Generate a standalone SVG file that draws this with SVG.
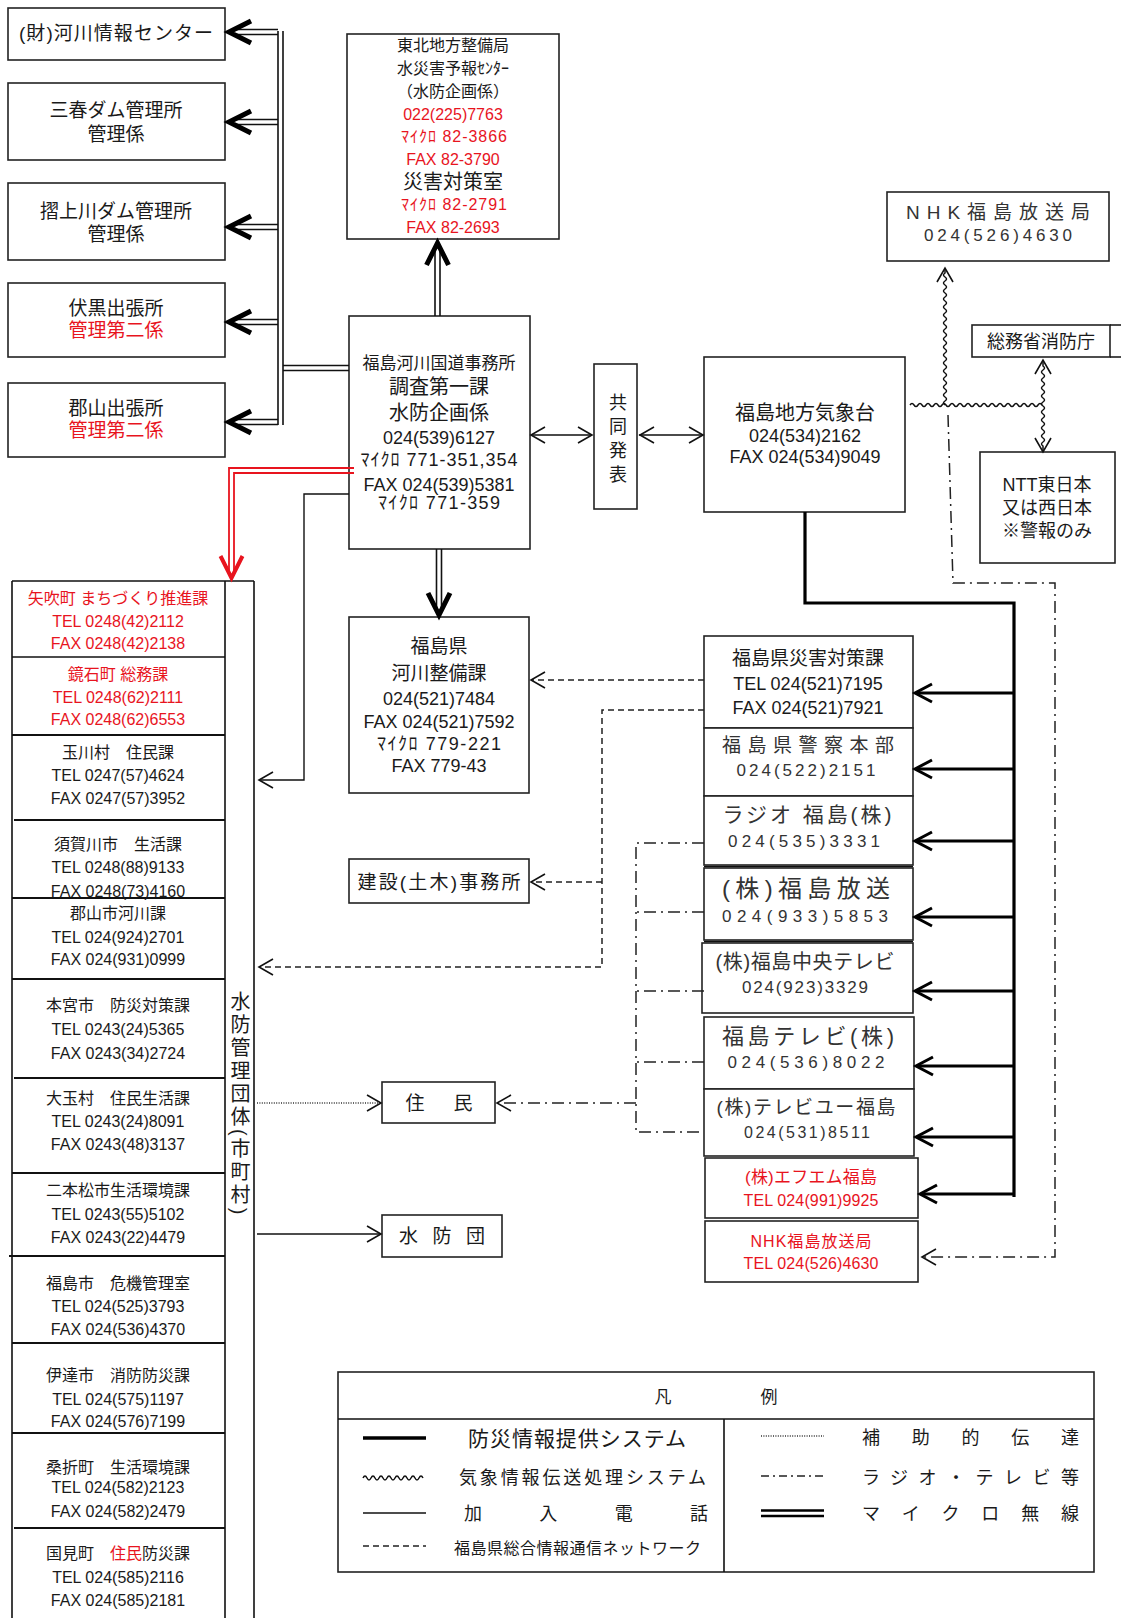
<svg xmlns="http://www.w3.org/2000/svg" width="1121" height="1618" viewBox="0 0 1121 1618">
<style>
text{font-family:"Liberation Sans","Noto Sans CJK JP",sans-serif;fill:#1a1a1a;text-anchor:middle}
.r{fill:#e8141e}
.g{fill:#333}
.box{fill:#fff;stroke:#222;stroke-width:1.6}
.ln{fill:none;stroke:#111;stroke-width:1.4}
.sep{fill:none;stroke:#111;stroke-width:2}
.thick{fill:none;stroke:#000;stroke-width:3.2}
.dbl{fill:none;stroke:#111;stroke-width:1.6}
.rdbl{fill:none;stroke:#e8141e;stroke-width:1.8}
.dash{fill:none;stroke:#222;stroke-width:1.5;stroke-dasharray:6 4}
.dd{fill:none;stroke:#222;stroke-width:1.5;stroke-dasharray:12 5 2 5}
.dot{fill:none;stroke:#333;stroke-width:1.4;stroke-dasharray:1 1.4}
.wav{fill:none;stroke:#111;stroke-width:1.5}
.cb{fill:none;stroke:#000;stroke-width:5}
.cr{fill:none;stroke:#e8141e;stroke-width:4}
.cm{fill:none;stroke:#000;stroke-width:3}
.ct{fill:none;stroke:#111;stroke-width:1.6}
</style>
<defs>
<path id="chB" d="M22,-11 L0,0 L22,11"/>
<path id="chM" d="M17,-9 L0,0 L17,9"/>
<path id="chT" d="M14,-8 L0,0 L14,8"/>
</defs>

<!-- left top boxes -->
<g id="kasen-center"><rect class="box" x="8" y="8" width="217" height="52"/><text x="116" y="40" font-size="19" textLength="194">(財)河川情報センター</text></g>
<g id="miharu"><rect class="box" x="8" y="83" width="217" height="77"/><text x="116" y="117" font-size="19">三春ダム管理所</text><text x="116" y="141" font-size="19">管理係</text></g>
<g id="surikamigawa"><rect class="box" x="8" y="183" width="217" height="77"/><text x="116" y="218" font-size="19">摺上川ダム管理所</text><text x="116" y="241" font-size="19">管理係</text></g>
<g id="fushiguro"><rect class="box" x="8" y="283" width="217" height="74"/><text x="116" y="315" font-size="19">伏黒出張所</text><text x="116" y="337" font-size="19" class="r">管理第二係</text></g>
<g id="koriyama-sh"><rect class="box" x="8" y="383" width="217" height="74"/><text x="116" y="415" font-size="19">郡山出張所</text><text x="116" y="437" font-size="19" class="r">管理第二係</text></g>

<g id="tohoku"><rect class="box" x="347" y="34" width="212" height="205"/>
<text x="453" y="51" font-size="16">東北地方整備局</text>
<text x="453" y="74" font-size="16">水災害予報ｾﾝﾀｰ</text>
<text x="453" y="97" font-size="16">（水防企画係）</text>
<text x="453" y="120" font-size="16" class="r">022(225)7763</text>
<text x="454" y="142" font-size="16" class="r" textLength="106">ﾏｲｸﾛ 82-3866</text>
<text x="453" y="165" font-size="16" class="r">FAX 82-3790</text>
<text x="453" y="189" font-size="20">災害対策室</text>
<text x="454" y="210" font-size="16" class="r" textLength="106">ﾏｲｸﾛ 82-2791</text>
<text x="453" y="233" font-size="16" class="r">FAX 82-2693</text>
</g>

<g id="office"><rect class="box" x="349" y="316" width="181" height="233"/>
<text x="439" y="369" font-size="17">福島河川国道事務所</text>
<text x="439" y="394" font-size="20">調査第一課</text>
<text x="439" y="420" font-size="20">水防企画係</text>
<text x="439" y="444" font-size="18">024(539)6127</text>
<text x="439" y="466" font-size="18" textLength="157">ﾏｲｸﾛ 771-351,354</text>
<text x="439" y="491" font-size="18">FAX 024(539)5381</text>
<text x="439" y="509" font-size="18" textLength="122">ﾏｲｸﾛ 771-359</text>
</g>

<g id="kyodo"><rect class="box" x="594" y="364" width="43" height="145"/>
<text x="616" y="393" font-size="18" style="writing-mode:vertical-rl;text-anchor:start;letter-spacing:6px">共同発表</text></g>

<g id="kishodai"><rect class="box" x="704" y="357" width="201" height="155"/>
<text x="805" y="420" font-size="20">福島地方気象台</text>
<text x="805" y="442" font-size="18">024(534)2162</text>
<text x="805" y="463" font-size="18">FAX 024(534)9049</text></g>

<g id="nhk-top"><rect class="box" x="887" y="192" width="222" height="69"/>
<text x="998" y="219" font-size="19" textLength="184" class="g">NHK福島放送局</text>
<text x="998" y="241" font-size="17" textLength="148" class="g">024(526)4630</text></g>

<g id="shobocho"><rect class="box" x="972" y="325" width="138" height="32"/><path class="ln" d="M1110,325 H1121 M1110,357 H1121"/>
<text x="1041" y="348" font-size="18">総務省消防庁</text></g>

<g id="ntt"><rect class="box" x="980" y="452" width="135" height="111"/>
<text x="1047" y="491" font-size="18">NTT東日本</text>
<text x="1047" y="514" font-size="18">又は西日本</text>
<text x="1047" y="537" font-size="18">※警報のみ</text></g>

<g id="kasen-seibi"><rect class="box" x="349" y="617" width="180" height="176"/>
<text x="439" y="653" font-size="19">福島県</text>
<text x="439" y="680" font-size="19">河川整備課</text>
<text x="439" y="705" font-size="18">024(521)7484</text>
<text x="439" y="728" font-size="18">FAX 024(521)7592</text>
<text x="439" y="750" font-size="18" textLength="124">ﾏｲｸﾛ 779-221</text>
<text x="439" y="772" font-size="18">FAX 779-43</text></g>

<g id="kensetsu"><rect class="box" x="349" y="859" width="180" height="44"/>
<text x="439" y="889" font-size="19" textLength="163">建設(土木)事務所</text></g>

<g id="jumin"><rect class="box" x="382" y="1082" width="113" height="41"/><text x="439" y="1110" font-size="19" textLength="67">住民</text></g>
<g id="suibodan"><rect class="box" x="382" y="1215" width="120" height="42"/><text x="442" y="1243" font-size="19" textLength="86">水防団</text></g>

<!-- right column -->
<g id="saigai"><rect class="box" x="704" y="636" width="209" height="92"/>
<text x="808" y="665" font-size="19">福島県災害対策課</text>
<text x="808" y="690" font-size="18">TEL 024(521)7195</text>
<text x="808" y="714" font-size="18">FAX 024(521)7921</text></g>
<g id="keisatsu"><rect class="box" x="704" y="728" width="209" height="68"/>
<text x="808" y="752" font-size="19" textLength="172" class="g">福島県警察本部</text>
<text x="806" y="776" font-size="17" textLength="139" class="g">024(522)2151</text></g>
<g id="radio"><rect class="box" x="704" y="796" width="209" height="69"/>
<text x="807" y="822" font-size="21" textLength="169" class="g">ラジオ 福島(株)</text>
<text x="804" y="847" font-size="17" textLength="152" class="g">024(535)3331</text></g>
<g id="kfb"><rect class="box" x="704" y="868" width="209" height="72"/><path class="ln" d="M704,866.5 H913"/>
<text x="806" y="897" font-size="24" textLength="168" class="g">(株)福島放送</text>
<text x="805" y="922" font-size="17" textLength="166" class="g">024(933)5853</text></g>
<g id="fct"><rect class="box" x="702" y="943" width="211" height="70"/><path class="ln" d="M704,941.5 H913"/>
<text x="805" y="969" font-size="20" textLength="179" class="g">(株)福島中央テレビ</text>
<text x="805" y="993" font-size="17" textLength="126" class="g">024(923)3329</text></g>
<g id="ftv"><rect class="box" x="704" y="1017" width="210" height="72"/>
<text x="808" y="1044" font-size="22" textLength="172" class="g">福島テレビ(株)</text>
<text x="806" y="1068" font-size="17" textLength="157" class="g">024(536)8022</text></g>
<g id="tuf"><rect class="box" x="704" y="1089" width="210" height="67"/>
<text x="806" y="1114" font-size="19" textLength="179" class="g">(株)テレビユー福島</text>
<text x="807" y="1138" font-size="16" textLength="126" class="g">024(531)8511</text></g>
<g id="fm"><rect class="box" x="705" y="1158" width="213" height="60"/>
<text x="811" y="1183" font-size="17" textLength="132" class="r">(株)エフエム福島</text>
<text x="811" y="1206" font-size="16" textLength="135" class="r">TEL 024(991)9925</text></g>
<g id="nhk-red"><rect class="box" x="705" y="1221" width="213" height="61"/>
<text x="811" y="1247" font-size="16" textLength="121" class="r">NHK福島放送局</text>
<text x="811" y="1269" font-size="16" textLength="135" class="r">TEL 024(526)4630</text></g>

<!-- municipalities column -->
<g id="municipalities">
<path class="ln" d="M12,581 V1618 M254,581 V1618 M12,581 H254 M225,581 V1618" style="stroke-width:1.6"/>
<text x="239" y="991" font-size="20" style="writing-mode:vertical-rl;text-anchor:start;letter-spacing:3px">水防管理団体(市町村)</text>
</g>
<g id="yabuki"><path class="ln" d="M12,657 H225"/>
<text x="118" y="604" font-size="16" class="r">矢吹町 まちづくり推進課</text>
<text x="118" y="627" font-size="16" class="r">TEL 0248(42)2112</text>
<text x="118" y="649" font-size="16" class="r">FAX 0248(42)2138</text></g>
<g id="kagamiishi"><path class="sep" d="M12,735 H225"/>
<text x="118" y="680" font-size="16" class="r">鏡石町 総務課</text>
<text x="118" y="703" font-size="16" class="r">TEL 0248(62)2111</text>
<text x="118" y="725" font-size="16" class="r">FAX 0248(62)6553</text></g>
<g id="tamakawa"><path class="sep" d="M14,820 H225"/>
<text x="118" y="758" font-size="16">玉川村　住民課</text>
<text x="118" y="781" font-size="16">TEL 0247(57)4624</text>
<text x="118" y="804" font-size="16">FAX 0247(57)3952</text></g>
<g id="sukagawa"><path class="sep" d="M12,898 H225"/>
<text x="118" y="850" font-size="16">須賀川市　生活課</text>
<text x="118" y="873" font-size="16">TEL 0248(88)9133</text>
<text x="118" y="897" font-size="16">FAX 0248(73)4160</text></g>
<g id="koriyama"><path class="sep" d="M12,979 H225"/>
<text x="118" y="919" font-size="16">郡山市河川課</text>
<text x="118" y="943" font-size="16">TEL 024(924)2701</text>
<text x="118" y="965" font-size="16">FAX 024(931)0999</text></g>
<g id="motomiya"><path class="sep" d="M14,1078 H225"/>
<text x="118" y="1011" font-size="16">本宮市　防災対策課</text>
<text x="118" y="1035" font-size="16">TEL 0243(24)5365</text>
<text x="118" y="1059" font-size="16">FAX 0243(34)2724</text></g>
<g id="otama"><path class="sep" d="M12,1173 H225"/>
<text x="118" y="1104" font-size="16">大玉村　住民生活課</text>
<text x="118" y="1127" font-size="16">TEL 0243(24)8091</text>
<text x="118" y="1150" font-size="16">FAX 0243(48)3137</text></g>
<g id="nihonmatsu"><path class="sep" d="M9,1256 H225"/>
<text x="118" y="1196" font-size="16">二本松市生活環境課</text>
<text x="118" y="1220" font-size="16">TEL 0243(55)5102</text>
<text x="118" y="1243" font-size="16">FAX 0243(22)4479</text></g>
<g id="fukushima-shi"><path class="sep" d="M12,1343 H225"/>
<text x="118" y="1289" font-size="16">福島市　危機管理室</text>
<text x="118" y="1312" font-size="16">TEL 024(525)3793</text>
<text x="118" y="1335" font-size="16">FAX 024(536)4370</text></g>
<g id="date"><path class="sep" d="M12,1433 H225"/>
<text x="118" y="1381" font-size="16">伊達市　消防防災課</text>
<text x="118" y="1405" font-size="16">TEL 024(575)1197</text>
<text x="118" y="1427" font-size="16">FAX 024(576)7199</text></g>
<g id="koori"><path class="sep" d="M14,1528 H225"/>
<text x="118" y="1473" font-size="16">桑折町　生活環境課</text>
<text x="118" y="1493" font-size="16">TEL 024(582)2123</text>
<text x="118" y="1517" font-size="16">FAX 024(582)2479</text></g>
<g id="kunimi">
<text x="118" y="1559" font-size="16">国見町　<tspan class="r">住民</tspan>防災課</text>
<text x="118" y="1583" font-size="16">TEL 024(585)2116</text>
<text x="118" y="1606" font-size="16">FAX 024(585)2181</text></g>

<!-- connectors -->
<g id="connectors">
<path class="dbl" d="M278,31 V425 M283,31 V425 M283,365.5 H349 M283,370.5 H349"/>
<path class="dbl" d="M236,29.5 H278 M236,34.5 H278 M236,119.5 H278 M236,124.5 H278 M236,224.5 H278 M236,229.5 H278 M236,319.5 H278 M236,324.5 H278 M236,419.5 H278 M236,424.5 H278"/>
<use href="#chB" class="cb" transform="translate(229,32)"/>
<use href="#chB" class="cb" transform="translate(229,122)"/>
<use href="#chB" class="cb" transform="translate(229,227)"/>
<use href="#chB" class="cb" transform="translate(229,322)"/>
<use href="#chB" class="cb" transform="translate(229,422)"/>
<path class="dbl" d="M435,316 V250 M440,316 V250"/>
<use href="#chB" class="cb" transform="translate(437.5,243) rotate(90)"/>
<path class="dbl" d="M436.5,549 V608 M441.5,549 V608"/>
<use href="#chB" class="cb" transform="translate(439,615) rotate(-90)"/>
<path class="rdbl" d="M354,468 H229 V572 M354,473 H234 V572"/>
<use href="#chB" class="cr" transform="translate(231.5,578) rotate(-90)"/>
<path class="ln" d="M349,494 H304 V780 H260"/>
<use href="#chT" class="ct" transform="translate(259,780)"/>
<path class="ln" d="M532,435 H592 M639,435 H702"/>
<use href="#chT" class="ct" transform="translate(531,435)"/>
<use href="#chT" class="ct" transform="translate(592,435) rotate(180)"/>
<use href="#chT" class="ct" transform="translate(640,435)"/>
<use href="#chT" class="ct" transform="translate(703,435) rotate(180)"/>
<path class="wav" d="M910,405 q2,-3 4,0 t4,0 t4,0 t4,0 t4,0 t4,0 t4,0 t4,0 t4,0 t4,0 t4,0 t4,0 t4,0 t4,0 t4,0 t4,0 t4,0 t4,0 t4,0 t4,0 t4,0 t4,0 t4,0 t4,0 t4,0 t4,0 t4,0 t4,0 t4,0 t4,0 t4,0 t4,0 t4,0"/>
<path class="wav" d="M945,405 q-3,-2 0,-4 t0,-4 t0,-4 t0,-4 t0,-4 t0,-4 t0,-4 t0,-4 t0,-4 t0,-4 t0,-4 t0,-4 t0,-4 t0,-4 t0,-4 t0,-4 t0,-4 t0,-4 t0,-4 t0,-4 t0,-4 t0,-4 t0,-4 t0,-4 t0,-4 t0,-4 t0,-4 t0,-4 t0,-4 t0,-4 t0,-4 t0,-4 t0,-4 V269"/>
<use href="#chT" class="ct" transform="translate(945,268) rotate(90)"/>
<path class="wav" d="M1043,362 V366 q3,2 0,4 t0,4 t0,4 t0,4 t0,4 t0,4 t0,4 t0,4 t0,4 t0,4 t0,4 t0,4 t0,4 t0,4 t0,4 t0,4 t0,4 t0,4 t0,4 t0,4 V451"/>
<use href="#chT" class="ct" transform="translate(1043,360) rotate(90)"/>
<use href="#chT" class="ct" transform="translate(1043,452) rotate(-90)"/>
<path class="thick" d="M805,512 V603 H1014 V1197"/>
<path class="thick" d="M1014,693 H916 M1014,769 H916 M1014,841 H916 M1014,917 H916 M1014,991 H916 M1014,1066 H917 M1014,1137 H917 M1014,1194 H921"/>
<use href="#chM" class="cm" transform="translate(915,693)"/>
<use href="#chM" class="cm" transform="translate(915,769)"/>
<use href="#chM" class="cm" transform="translate(915,841)"/>
<use href="#chM" class="cm" transform="translate(915,917)"/>
<use href="#chM" class="cm" transform="translate(915,991)"/>
<use href="#chM" class="cm" transform="translate(916,1066)"/>
<use href="#chM" class="cm" transform="translate(916,1137)"/>
<use href="#chM" class="cm" transform="translate(920,1194)"/>
<path class="dd" d="M948,415 L953,583 H1055 V1257 H924"/>
<use href="#chT" class="ct" transform="translate(922,1257)"/>
<path class="dd" d="M704,843 H636 V1132 H704 M704,912 H636 M704,991 H636 M704,1062 H636 M636,1103 H498"/>
<use href="#chT" class="ct" transform="translate(497,1103)"/>
<path class="dash" d="M704,680 H532"/>
<use href="#chT" class="ct" transform="translate(531,680)"/>
<path class="dash" d="M704,710 H602 V967 H260 M602,882 H532"/>
<use href="#chT" class="ct" transform="translate(531,882)"/>
<use href="#chT" class="ct" transform="translate(259,967)"/>
<path class="dot" d="M257,1103 H380"/>
<use href="#chT" class="ct" transform="translate(381,1103) rotate(180)"/>
<path class="ln" d="M257,1234 H380"/>
<use href="#chT" class="ct" transform="translate(381,1234) rotate(180)"/>
</g>

<!-- legend -->
<g id="legend">
<rect class="box" x="338" y="1372" width="756" height="200"/>
<path class="ln" d="M338,1419 H1094 M724,1419 V1572" style="stroke-width:1.6"/>
<text x="663" y="1403" font-size="17">凡</text>
<text x="769" y="1403" font-size="17">例</text>
<path d="M363,1438 H426" style="stroke:#000;stroke-width:3.5"/>
<text x="468" y="1446" font-size="21" textLength="218" style="text-anchor:start">防災情報提供システム</text>
<path class="wav" d="M363,1478 q2,-4 4,0 t4,0 t4,0 t4,0 t4,0 t4,0 t4,0 t4,0 t4,0 t4,0 t4,0 t4,0 t4,0 t4,0 t4,0"/>
<text x="459" y="1484" font-size="18" textLength="247" style="text-anchor:start">気象情報伝送処理システム</text>
<path d="M363,1513 H426" style="stroke:#111;stroke-width:1.3"/>
<text x="464" y="1520" font-size="18" textLength="244" style="text-anchor:start">加入電話</text>
<path class="dash" d="M363,1546 H426"/>
<text x="454" y="1554" font-size="16" textLength="247" style="text-anchor:start">福島県総合情報通信ネットワーク</text>
<path class="dot" d="M761,1436 H824"/>
<text x="862" y="1444" font-size="18" textLength="217" style="text-anchor:start">補助的伝達</text>
<path class="dd" d="M761,1476 H824" style="stroke-dasharray:8 4 2 4"/>
<text x="862" y="1484" font-size="18" textLength="217" style="text-anchor:start">ラジオ・テレビ等</text>
<path d="M761,1510.5 H824 M761,1516 H824" style="stroke:#000;stroke-width:2.6"/>
<text x="862" y="1520" font-size="18" textLength="217" style="text-anchor:start">マイクロ無線</text>
</g>
</svg>
